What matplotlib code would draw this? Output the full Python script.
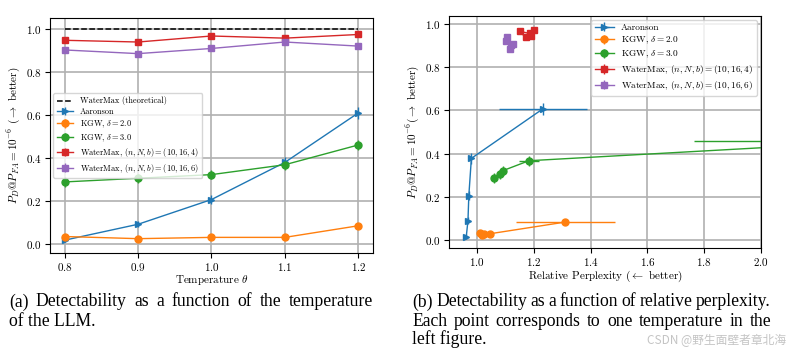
import matplotlib
matplotlib.use("Agg")
import matplotlib.pyplot as plt
import numpy as np

plt.rcParams['font.family'] = ['cmr10', 'DejaVu Serif']
plt.rcParams['mathtext.fontset'] = 'cm'
plt.rcParams['axes.formatter.use_mathtext'] = True
plt.rcParams['axes.unicode_minus'] = False

# temperatures (left plot x)
temps = [0.8, 0.9, 1.0, 1.1, 1.2]

# detection rates per method
aar_y = [0.016, 0.090, 0.205, 0.378, 0.608]
kgw2_y = [0.033, 0.023, 0.029, 0.029, 0.083]
kgw3_y = [0.287, 0.304, 0.321, 0.367, 0.459]
wm4_y = [0.946, 0.938, 0.966, 0.956, 0.973]
wm6_y = [0.901, 0.884, 0.908, 0.938, 0.919]

aar_yerr = [0.01, 0.015, 0.02, 0.025, 0.028]
kgw2_yerr = [0.008, 0.007, 0.008, 0.008, 0.012]
kgw3_yerr = [0.022, 0.022, 0.022, 0.024, 0.025]
wm4_yerr = [0.008, 0.008, 0.007, 0.008, 0.007]
wm6_yerr = [0.01, 0.01, 0.01, 0.009, 0.01]

# relative perplexity (right plot x)
aar_x = [0.961, 0.967, 0.970, 0.979, 1.232]
kgw2_x = [1.010, 1.015, 1.025, 1.045, 1.310]
kgw3_x = [1.060, 1.080, 1.090, 1.182, 2.437]
wm4_x = [1.190, 1.170, 1.150, 1.185, 1.200]
wm6_x = [1.120, 1.115, 1.125, 1.105, 1.100]

aar_xerr = [0.005, 0.006, 0.008, 0.010, 0.155]
kgw2_xerr = [0.006, 0.006, 0.008, 0.010, 0.175]
kgw3_xerr = [0.008, 0.008, 0.010, 0.035, 0.672]
wm4_xerr = [0.008, 0.008, 0.008, 0.008, 0.008]
wm6_xerr = [0.008, 0.008, 0.008, 0.008, 0.008]

labels = ["Aaronson", r"KGW, $\delta=2.0$", r"KGW, $\delta=3.0$",
          r"WaterMax, $(n,N,b)=(10,16,4)$", r"WaterMax, $(n,N,b)=(10,16,6)$"]
colors = ["#1f77b4", "#ff7f0e", "#2ca02c", "#d62728", "#9467bd"]
markers = [">", "o", "o", "s", "s"]

ys = [aar_y, kgw2_y, kgw3_y, wm4_y, wm6_y]
yerrs = [aar_yerr, kgw2_yerr, kgw3_yerr, wm4_yerr, wm6_yerr]
xs = [aar_x, kgw2_x, kgw3_x, wm4_x, wm6_x]
xerrs = [aar_xerr, kgw2_xerr, kgw3_xerr, wm4_xerr, wm6_xerr]

W, H = 791, 358
fig = plt.figure(figsize=(7.91, 3.58), dpi=100)
ax1 = fig.add_axes([0.0632, 0.2933, 0.4083, 0.6564])
ax2 = fig.add_axes([0.5676, 0.3073, 0.3944, 0.648])

# left: vs temperature
ax1.plot(temps, [1.0] * len(temps), "k--", lw=1.1, label="WaterMax (theoretical)")
for y, ye, lab, c, m in zip(ys, yerrs, labels, colors, markers):
    ax1.errorbar(temps, y, yerr=ye, color=c, marker=m, ms=5, lw=1.0,
                 elinewidth=1.0, label=lab)
ax1.set_xticks([0.8, 0.9, 1.0, 1.1, 1.2])
ax1.set_yticks([0.0, 0.2, 0.4, 0.6, 0.8, 1.0])
ax1.grid(True, color="#b0b0b0", lw=1.2)
ax1.set_axisbelow(True)
ax1.set_xlabel(r"Temperature $\theta$", fontsize=8, labelpad=0)
ax1.set_ylabel(r"$P_D@P_{FA}=10^{-6}$ ($\rightarrow$ better)", fontsize=8, labelpad=3)
ax1.tick_params(labelsize=8, pad=2.5)
ax1.legend(loc="center left", fontsize=6, framealpha=0.8, labelspacing=0.28,
           borderaxespad=0.4)

# right: vs relative perplexity
for x, xe, y, ye, lab, c, m in zip(xs, xerrs, ys, yerrs, labels, colors, markers):
    ax2.errorbar(x, y, xerr=xe, yerr=ye, color=c, marker=m, ms=5, lw=1.0,
                 elinewidth=1.0, label=lab)
ax2.set_xlim(0.9, 2.0)
ax2.set_ylim(-0.037, 1.037)
ax2.set_xticks([1.0, 1.2, 1.4, 1.6, 1.8, 2.0])
ax2.set_yticks([0.0, 0.2, 0.4, 0.6, 0.8, 1.0])
ax2.grid(True, color="#b0b0b0", lw=1.2)
ax2.set_axisbelow(True)
ax2.set_xlabel(r"Relative Perplexity ($\leftarrow$ better)", fontsize=8, labelpad=0)
ax2.set_ylabel(r"$P_D@P_{FA}=10^{-6}(\rightarrow$ better)", fontsize=8, labelpad=3)
ax2.tick_params(labelsize=8, pad=2.5)
ax2.legend(loc="upper right", fontsize=6.7, framealpha=0.8, labelspacing=0.3,
           borderaxespad=0.4)

# captions (justified like the LaTeX subcaptions)
cap = dict(family="Liberation Serif", fontsize=12.7, va="center", ha="left")
renderer = fig.canvas.get_renderer()


def justified(line, x0, x1, ypix):
    words = line.split(" ")
    widths = []
    for w in words:
        t = fig.text(0, 0, w, **cap)
        widths.append(t.get_window_extent(renderer).width)
        t.remove()
    gap = (x1 - x0 - sum(widths)) / (len(words) - 1)
    x = x0
    for w, wd in zip(words, widths):
        fig.text(x / W, 1 - ypix / H, w, **cap)
        x += wd + gap


def plain(line, x0, ypix):
    fig.text(x0 / W, 1 - ypix / H, line, **cap)


justified("(a) Detectability as a function of the temperature", 9, 373, 302)
plain("of the LLM.", 9, 321)
justified("(b) Detectability as a function of relative perplexity.", 412, 771, 302)
justified("Each point corresponds to one temperature in the", 412, 771, 321)
plain("left figure.", 412, 339)
fig.text(786 / W, 1 - 340 / H, "CSDN @野生面壁者章北海", family=["Noto Sans CJK SC", "DejaVu Sans"],
         fontsize=8.5, color="#c4c4c4", ha="right", va="center")

fig.savefig("out.png", dpi=100)
